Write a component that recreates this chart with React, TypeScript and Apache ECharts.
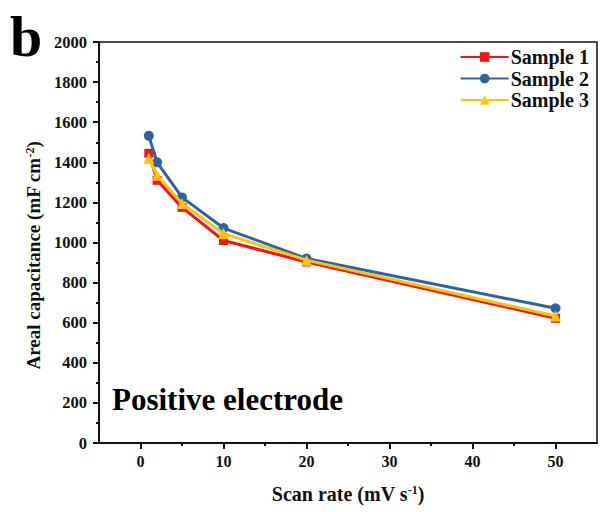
import React, { useEffect, useRef } from "react";
import * as echarts from "echarts";

const scanRates = [1, 2, 5, 10, 20, 50];
const sample1 = [1445, 1310, 1175, 1010, 903, 622];
const sample2 = [1532, 1400, 1225, 1072, 920, 672];
const sample3 = [1420, 1335, 1195, 1045, 912, 633];
const seriesNames = ["Sample 1", "Sample 2", "Sample 3"];
const seriesColors = ["#f51414", "#2b64a2", "#ffc20e"];
const seriesSymbols = ["rect", "circle", "triangle"];
const xMajorTicks = [0, 10, 20, 30, 40, 50];
const xMinorTicks = [5, 15, 25, 35, 45];

const FONT = "'Liberation Serif', 'Times New Roman', serif";

export default function App() {
  const ref = useRef<HTMLDivElement>(null);
  useEffect(() => {
    if (!ref.current) return;
    const chart = echarts.init(ref.current, undefined, { renderer: "svg" });
    const allData = [sample1, sample2, sample3];
    const supStyle = {
      fontFamily: FONT,
      fontWeight: "bold",
      fontSize: 12,
      verticalAlign: "top",
      color: "#111",
    };
    chart.setOption({
      animation: false,
      backgroundColor: "#ffffff",
      textStyle: { fontFamily: FONT },
      grid: {
        left: 99,
        right: 5,
        top: 42,
        bottom: 69,
        show: true,
        borderColor: "#111",
        borderWidth: 1.5,
      },
      legend: {
        orient: "vertical",
        right: 8,
        top: 42,
        itemWidth: 48,
        itemHeight: 12,
        itemGap: 1.5,
        textStyle: {
          fontFamily: FONT,
          fontWeight: "bold",
          fontSize: 20,
          color: "#111",
          padding: [0, 0, 0, -3],
        },
        data: seriesNames,
      },
      xAxis: [
        {
          type: "value",
          min: -5,
          max: 55,
          interval: 5,
          position: "bottom",
          splitLine: { show: false },
          axisLine: { onZero: false, lineStyle: { color: "#111", width: 2 } },
          axisTick: {
            customValues: xMajorTicks,
            length: 6,
            lineStyle: { color: "#111", width: 2 },
          },
          axisLabel: {
            customValues: xMajorTicks,
            margin: 10,
            fontFamily: FONT,
            fontWeight: "bold",
            fontSize: 16,
            color: "#111",
          },
          name: "Scan rate (mV s{sup|-1})",
          nameLocation: "middle",
          nameGap: 41,
          nameTextStyle: {
            fontFamily: FONT,
            fontWeight: "bold",
            fontSize: 20,
            color: "#111",
            rich: { sup: supStyle },
          },
        },
        {
          type: "value",
          min: -5,
          max: 55,
          interval: 5,
          position: "bottom",
          offset: 0,
          splitLine: { show: false },
          axisLine: { show: false, onZero: false },
          axisLabel: { show: false },
          axisTick: {
            customValues: xMinorTicks,
            length: 3,
            lineStyle: { color: "#111", width: 2 },
          },
        },
      ],
      yAxis: {
        type: "value",
        min: 0,
        max: 2000,
        interval: 200,
        splitLine: { show: false },
        axisLine: { show: true, onZero: false, lineStyle: { color: "#111", width: 2 } },
        axisTick: { length: 6, lineStyle: { color: "#111", width: 2 } },
        minorTick: {
          show: true,
          splitNumber: 2,
          length: 3,
          lineStyle: { color: "#111", width: 2 },
        },
        minorSplitLine: { show: false },
        axisLabel: {
          margin: 12,
          fontFamily: FONT,
          fontWeight: "bold",
          fontSize: 16.5,
          color: "#111",
          formatter: (v: number) => String(v),
        },
        name: "Areal capacitance (mF cm{sup|-2})",
        nameLocation: "middle",
        nameGap: 46,
        nameTextStyle: {
          fontFamily: FONT,
          fontWeight: "bold",
          fontSize: 19,
          color: "#111",
          padding: [0, 26, 0, 0],
          rich: { sup: supStyle },
        },
      },
      graphic: [
        {
          type: "text",
          left: 10,
          top: 7,
          style: {
            text: "b",
            font: `bold 58px ${FONT}`,
            fill: "#000",
          },
        },
        {
          type: "text",
          left: 112,
          top: 384,
          style: {
            text: "Positive electrode",
            font: `bold 31px ${FONT}`,
            fill: "#000",
          },
        },
      ],
      series: seriesNames.map((name, i) => ({
        name,
        type: "line",
        xAxisIndex: 0,
        data: scanRates.map((x, j) => [x, allData[i][j]]),
        symbol: seriesSymbols[i],
        symbolSize: i === 0 ? 9 : i === 1 ? 10 : 11,
        lineStyle: { color: seriesColors[i], width: 3 },
        itemStyle: { color: seriesColors[i] },
        z: 2 + i,
      })),
    });
    return () => chart.dispose();
  }, []);
  return (
    <div
      ref={ref}
      style={{ position: "fixed", left: 0, top: 0, width: 602, height: 512 }}
    />
  );
}
